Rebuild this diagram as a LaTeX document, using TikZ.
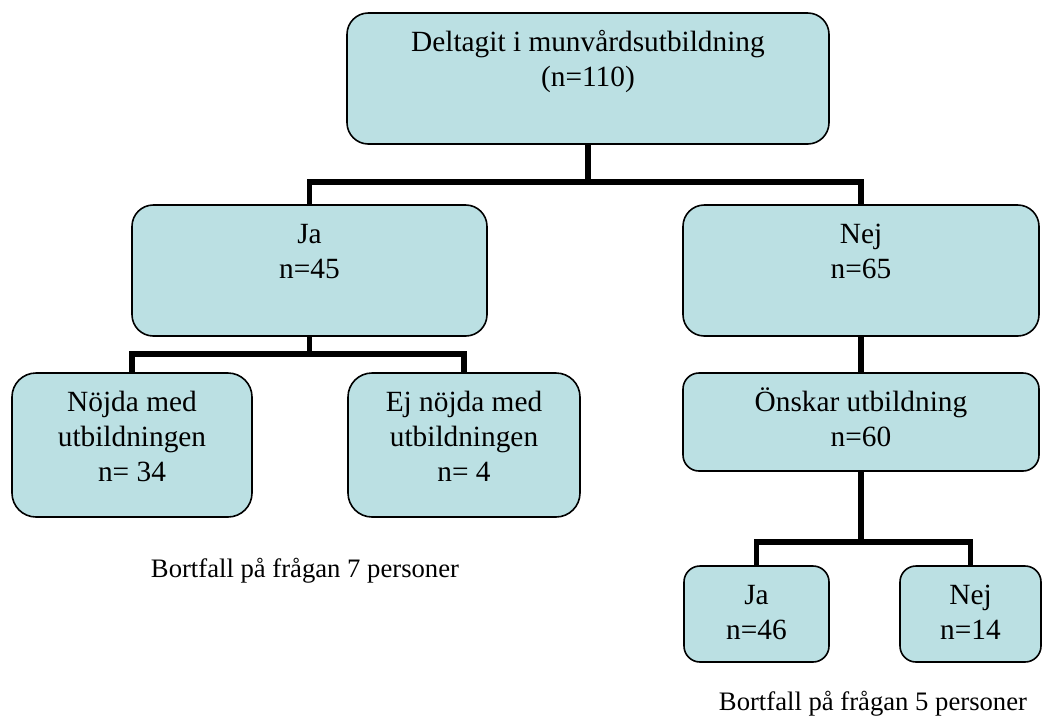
\documentclass[tikz,border=0pt]{standalone}
\usepackage{fontspec}
\setmainfont{Liberation Serif}
\definecolor{boxfill}{RGB}{187,224,227}
\newlength\unitpx
\setlength\unitpx{0.75pt}
% text at the top of a box of given width and height (in px)
\newcommand{\boxtxt}[3]{\parbox[c][#2\unitpx][t]{#1\unitpx}{\centering\rule{0pt}{29pt}#3}}
\tikzset{
  box/.style={draw=black, fill=boxfill, line width=1.2pt, inner sep=0pt,
    rounded corners=#1, font=\fontsize{22}{26}\selectfont},
  box/.default=16pt,
  conn/.style={line width=4.3pt},
  note/.style={anchor=base, font=\fontsize{20}{24}\selectfont}
}
\begin{document}
\begin{tikzpicture}[x=0.75pt, y=-0.75pt]
  \useasboundingbox (0,0) rectangle (1043,715);
  \draw
    (588,78.5) node[box] (top){\boxtxt{482}{131}{Deltagit i munvårdsutbildning\\(n=110)}}
    (309.5,270.5) node[box] (ja){\boxtxt{355}{131}{Ja\\n=45}}
    (861,270.5) node[box] (nej){\boxtxt{356}{131}{Nej\\n=65}}
    (132,445) node[box=18pt] (nojda){\boxtxt{240}{144}{Nöjda med\\utbildningen\\n= 34}}
    (464,445) node[box=18pt] (ejnojda){\boxtxt{232}{144}{Ej nöjda med\\utbildningen\\n= 4}}
    (861,422) node[box=12pt] (onskar){\boxtxt{356}{98}{Önskar utbildning\\n=60}}
    (756.5,614) node[box=12pt] (ja2){\boxtxt{145}{96}{Ja\\n=46}}
    (970.5,614) node[box=12pt] (nej2){\boxtxt{141}{96}{Nej\\n=14}};
  \node[note] (bortfall1) at (305,577) {Bortfall på frågan 7 personer};
  \node[note] (bortfall2) at (873,710) {Bortfall på frågan 5 personer};
  \coordinate (s1) at (588,182);
  \coordinate (s2) at (309.5,354);
  \coordinate (s3) at (861,542);
  \begin{scope}[conn]
    \draw (top.south) -- (s1);
    \draw (ja.north) |- (s1) -| (nej.north);
    \draw (ja.south) -- (s2);
    \draw (nojda.north) |- (s2) -| (ejnojda.north);
    \draw (nej.south) -- (onskar.north);
    \draw (onskar.south) -- (s3);
    \draw (ja2.north) |- (s3) -| (nej2.north);
  \end{scope}
\end{tikzpicture}
\end{document}
